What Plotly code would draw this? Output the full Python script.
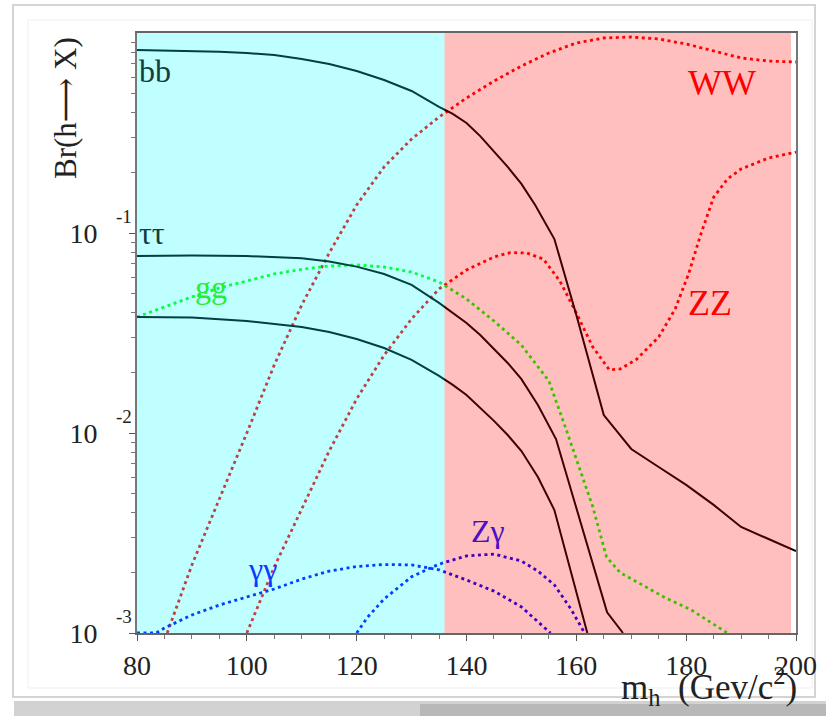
import math
import plotly.graph_objects as go

# ---------------- data ----------------
mass_bb = [80, 85, 90, 95, 100, 105, 110, 115, 120, 125, 130, 135, 137.5, 140, 142.5, 145,
           147.5, 150, 152.5, 156, 160, 165, 170, 175, 180, 185, 190, 195, 200]
br_bb = [0.822, 0.818, 0.815, 0.807, 0.794, 0.776, 0.741, 0.700, 0.646, 0.582, 0.513,
         0.427, 0.394, 0.355, 0.305, 0.257, 0.214, 0.176, 0.138, 0.0933, 0.0389, 0.0123,
         0.00832, 0.00676, 0.00550, 0.00437, 0.00339, 0.00295, 0.00257]

mass_tautau = [80, 90, 100, 105, 110, 115, 120, 125, 130, 135, 137.5, 140, 142.5, 145,
               147.5, 150, 153, 156.3, 165.6, 168.5]
br_tautau = [0.0767, 0.0771, 0.0767, 0.0759, 0.0748, 0.0721, 0.0679, 0.0624, 0.0550,
             0.0447, 0.0400, 0.0355, 0.0309, 0.0263, 0.0224, 0.0186, 0.0138, 0.00933,
             0.00127, 0.00100]

mass_cc = [80, 90, 100, 105, 110, 115, 120, 125, 130, 135, 137.5, 140, 142.5, 145, 147.5,
           150, 153, 156, 162]
br_cc = [0.0380, 0.0378, 0.0363, 0.0351, 0.0339, 0.0320, 0.0295, 0.0266, 0.0232, 0.0193,
         0.0174, 0.0155, 0.0134, 0.0115, 0.00977, 0.00813, 0.00603, 0.00412, 0.00100]

mass_gg = [80, 85, 90, 95, 100, 105, 110, 115, 120, 125, 130, 135, 140, 145, 150, 155,
           158, 160.5, 163, 165.5, 168, 172, 176, 181, 187.5]
br_gg = [0.0380, 0.0427, 0.0479, 0.0531, 0.0575, 0.0624, 0.0658, 0.0684, 0.0692, 0.0676,
         0.0638, 0.0569, 0.0468, 0.0363, 0.0275, 0.0182, 0.0107, 0.00676, 0.00427,
         0.00240, 0.00200, 0.00174, 0.00151, 0.00130, 0.00100]

mass_ww = [85.5, 90, 95, 100, 105, 110, 115, 120, 125, 130, 135, 140, 145, 150, 155, 160,
           165, 170, 175, 180, 185, 190, 195, 200]
br_ww = [0.00100, 0.00219, 0.00468, 0.0100, 0.0219, 0.0437, 0.0794, 0.138, 0.214, 0.295,
         0.380, 0.473, 0.575, 0.684, 0.794, 0.891, 0.944, 0.955, 0.933, 0.881, 0.813,
         0.750, 0.724, 0.716]

mass_zz = [100, 105, 110, 115, 120, 125, 130, 135, 140, 145, 148, 151, 154, 157, 160, 163,
           166, 168, 171, 175, 178, 180.5, 182.5, 185, 187.5, 190, 195, 200]
br_zz = [0.00100, 0.00214, 0.00417, 0.00813, 0.0148, 0.0245, 0.0372, 0.0525, 0.0653,
         0.0759, 0.0798, 0.0794, 0.0741, 0.0575, 0.0398, 0.0269, 0.0207, 0.0209, 0.0234,
         0.0302, 0.0417, 0.0631, 0.0955, 0.151, 0.186, 0.209, 0.237, 0.254]

mass_gamgam = [80, 83.5, 85, 90, 95, 100, 105, 110, 115, 120, 125, 130, 135, 140, 145,
               150, 155.3]
br_gamgam = [0.00100, 0.00100, 0.00106, 0.00123, 0.00138, 0.00151, 0.00166, 0.00186,
             0.00204, 0.00215, 0.00220, 0.00219, 0.00207, 0.00184, 0.00162, 0.00135,
             0.00100]

mass_zgam = [120, 122, 125, 130, 135, 140, 145, 150, 153, 156, 159, 161.5]
br_zgam = [0.00100, 0.00120, 0.00148, 0.00191, 0.00221, 0.00243, 0.00248, 0.00229,
           0.00204, 0.00174, 0.00132, 0.00100]

x_ticks = [80, 100, 120, 140, 160, 180, 200]
y_ticks = [1e-3, 1e-2, 1e-1]
y_ticktext = ["10", "10", "10"]
y_exponents = ["-3", "-2", "-1"]
y_minor = [k * 10.0 ** e for e in (-3, -2, -1) for k in range(2, 10)]

region_split = 136      # boundary between the two shaded mass regions
region_end = 199.1

SERIF = "Liberation Serif, DejaVu Serif, serif"

# ---------------- figure ----------------
fig = go.Figure()


def add_line(x, y, color, dash, width):
    fig.add_trace(go.Scatter(x=x, y=y, mode="lines",
                             line=dict(color=color, width=width, dash=dash),
                             hoverinfo="skip", showlegend=False))


DOT = "3px,3.5px"
add_line(mass_ww, br_ww, "#ff0000", DOT, 2.8)
add_line(mass_zz, br_zz, "#ff0000", DOT, 2.8)
add_line(mass_gg, br_gg, "#00ff00", DOT, 2.8)
add_line(mass_gamgam, br_gamgam, "#0000ff", DOT, 2.8)
add_line(mass_zgam, br_zgam, "#0000ff", DOT, 2.8)
add_line(mass_bb, br_bb, "#000000", "solid", 2)
add_line(mass_tautau, br_tautau, "#000000", "solid", 2)
add_line(mass_cc, br_cc, "#000000", "solid", 2)

# plot area in page pixels
L, R, T, B = 137, 796, 33, 633
W, H = 826, 716


def px(p):
    return (p - L) / (R - L)


def py(p):
    return (B - p) / (B - T)


shapes = [
    # card outline and shadow
    dict(type="rect", xref="paper", yref="paper", x0=px(13), x1=px(815), y0=py(697), y1=py(5),
         line=dict(color="#d4d4d4", width=2), layer="below"),
    dict(type="rect", xref="paper", yref="paper", x0=px(28), x1=px(812), y0=py(688), y1=py(20),
         line=dict(color="#efefef", width=1), layer="below"),
    dict(type="rect", xref="paper", yref="paper", x0=px(14), x1=px(830), y0=py(720), y1=py(701),
         fillcolor="#d2d2d2", line=dict(width=0), layer="below"),
    dict(type="rect", xref="paper", yref="paper", x0=px(420), x1=px(830), y0=py(720), y1=py(704),
         fillcolor="#b8b8b8", line=dict(width=0), layer="below"),
    # translucent region overlays
    dict(type="rect", xref="x", yref="paper", x0=80, x1=region_split, y0=0, y1=1,
         fillcolor="#00ffff", opacity=0.25, line=dict(width=0), layer="above"),
    dict(type="rect", xref="x", yref="paper", x0=region_split, x1=region_end, y0=0, y1=1,
         fillcolor="#ff0000", opacity=0.25, line=dict(width=0), layer="above"),
]

ann = []


def label(text, x, ylog, color, size, xanchor="center"):
    ann.append(dict(text=text, x=x, y=ylog, xref="x", yref="y", showarrow=False,
                    xanchor=xanchor, yanchor="middle",
                    font=dict(family=SERIF, size=size, color=color)))


label("bb", 80.0, -0.19, "#0f3f3f", 32, "left")
label("ττ", 80.0, -1.0, "#0f3f3f", 32, "left")
label("cc", 79.9, -1.47, "#0f3f3f", 32, "left")
label("gg", 93.5, -1.27, "#22ee33", 32)
label("γγ", 102.8, -2.68, "#0a3cff", 32)
label("Zγ", 143.9, -2.49, "#4a10c8", 32)
label("WW", 186.6, -0.25, "#ff0000", 36)
label("ZZ", 184.3, -1.35, "#ff0000", 36)

# exponents of the y tick labels
for val, ex in zip(y_ticks, y_exponents):
    ann.append(dict(text=ex, x=px(124), y=(3 + math.log10(val)) / 3,
                    xref="paper", yref="paper", yshift=17, showarrow=False,
                    xanchor="center", yanchor="middle",
                    font=dict(family=SERIF, size=19, color="#222222")))

ann.append(dict(text="Br(h\u27f6 X)", x=px(65), y=py(108), xref="paper", yref="paper",
                showarrow=False, textangle=-90, xanchor="center", yanchor="middle",
                font=dict(family=SERIF, size=31, color="#222222")))
ann.append(dict(text="m<sub>h</sub>  (Gev/c<sup>2</sup>)", x=px(799), y=py(686),
                xref="paper", yref="paper", showarrow=False, xanchor="right",
                yanchor="middle", font=dict(family=SERIF, size=35, color="#222222")))

fig.update_layout(
    width=W, height=H, autosize=False,
    margin=dict(l=L, r=W - R, t=T, b=H - B, pad=0),
    paper_bgcolor="white", plot_bgcolor="rgba(0,0,0,0)",
    shapes=shapes, annotations=ann, showlegend=False,
    xaxis=dict(range=[80, 200], tickvals=x_ticks, ticks="outside", ticklen=6,
               tickcolor="#555555", tickwidth=1, automargin=False,
               minor=dict(dtick=5, tick0=80, ticks="outside", ticklen=4, tickcolor="#777777"),
               showline=True, linecolor="#666666", linewidth=2, mirror=True,
               showgrid=False, zeroline=False,
               tickfont=dict(family=SERIF, size=28, color="#222222")),
    yaxis=dict(type="log", range=[-3, 0], tickvals=y_ticks, ticktext=y_ticktext,
               ticks="outside", ticklen=6, tickcolor="#555555", tickwidth=1,
               ticklabelstandoff=26, automargin=False,
               minor=dict(tickvals=y_minor, ticks="outside", ticklen=4, tickcolor="#777777"),
               showline=True, linecolor="#777777", linewidth=2, mirror=True,
               showgrid=False, zeroline=False,
               tickfont=dict(family=SERIF, size=28, color="#222222")),
)

fig.write_html("out.html", config={"displayModeBar": False},
               post_script="document.body.style.margin='0';document.body.style.overflow='hidden';")
